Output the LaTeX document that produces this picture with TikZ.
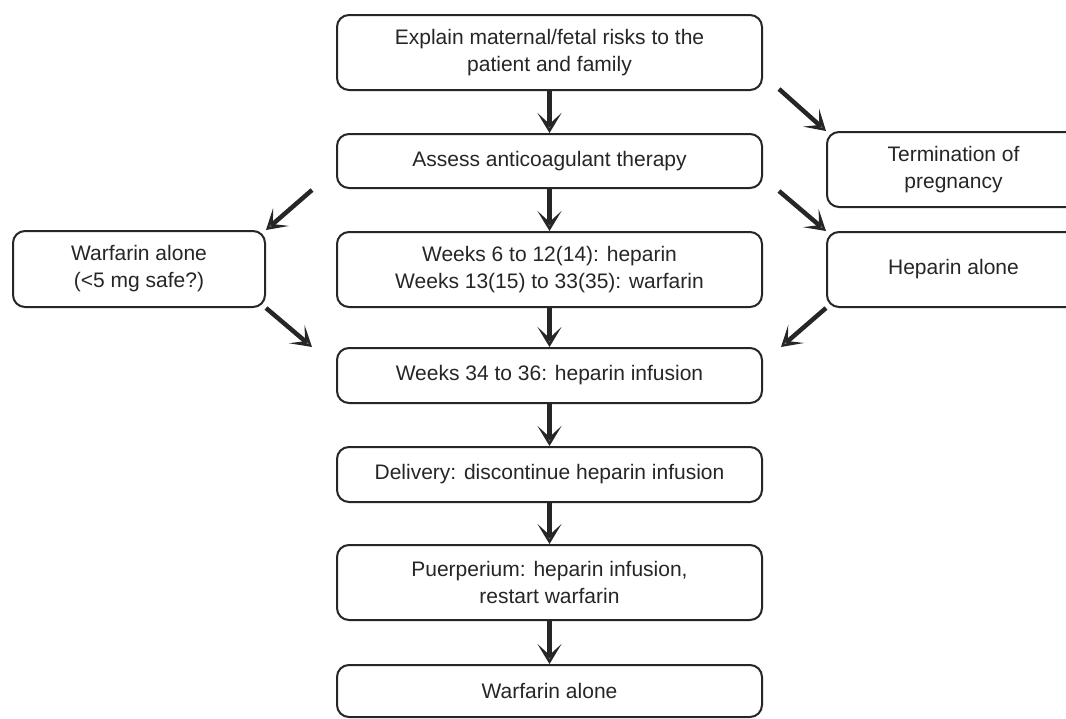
\documentclass[tikz,border=0pt]{standalone}
\usepackage{fontspec}
\setmainfont{Liberation Sans}
\usetikzlibrary{arrows.meta,calc}
\begin{document}
\begin{tikzpicture}[x=1pt,y=-1pt,
  box/.style={draw=black!85, line width=2pt, rounded corners=12pt, align=center,
    text=black!85, inner sep=0pt, font=\fontsize{21}{27}\selectfont},
  mid/.style={box, minimum width=425pt},
  side/.style={box, minimum width=253pt},
  arr/.style={draw=black!85, line width=4.5pt,
    -{Stealth[length=20pt,width=24pt,inset=11pt,line width=3pt,fill=black!50,color=black!85]}}
]
\clip (0,0) rectangle (1066,718);
\useasboundingbox (0,0) rectangle (1066,718);
\fill[white] (0,0) rectangle (1066,718);

\node[mid, minimum height=75pt] (b1) at (549.5,52.5) {Explain maternal/fetal risks to the\\patient and family};
\node[mid, minimum height=54pt] (b2) at (549.5,161) {Assess anticoagulant therapy};
\node[mid, minimum height=75pt] (b3) at (549.5,269.5) {Weeks 6 to 12(14): heparin\\Weeks 13(15) to 33(35): warfarin};
\node[mid, minimum height=55pt] (b4) at (549.5,375.5) {Weeks 34 to 36: heparin infusion};
\node[mid, minimum height=55pt] (b5) at (549.5,474.5) {Delivery: discontinue heparin infusion};
\node[mid, minimum height=75pt] (b6) at (549.5,582.5) {Puerperium: heparin infusion,\\restart warfarin};
\node[mid, minimum height=52pt] (b7) at (549.5,691) {Warfarin alone};

\node[box, minimum width=252pt, minimum height=76pt] (warf) at (139,269) {Warfarin alone\\(<5 mg safe?)};
\node[side, minimum height=75pt] (term) at (953.5,169.5) {Termination of\\pregnancy};
\node[side, minimum height=75pt] (hep) at (953.5,269.5) {Heparin alone};

\draw[arr] (b1) -- (b2);
\draw[arr] (b2) -- (b3);
\draw[arr] (b3) -- (b4);
\draw[arr] (b4) -- (b5);
\draw[arr] (b5) -- (b6);
\draw[arr] (b6) -- (b7);

\coordinate (s1) at ($(b1.south east)+(16,-2)$);
\coordinate (s2) at ($(b2.south west)+(-24,1)$);
\coordinate (s3) at ($(b2.south east)+(16,2)$);
\coordinate (t4) at ($(b4.north west)+(-24,0)$);
\coordinate (t5) at ($(b4.north east)+(18,0)$);

\draw[arr] (s1) -- (term.north west);
\draw[arr] (s2) -- (warf.north east);
\draw[arr] (s3) -- (hep.north west);
\draw[arr] (warf.south east) -- (t4);
\draw[arr] (hep.south west) -- (t5);
\end{tikzpicture}
\end{document}
